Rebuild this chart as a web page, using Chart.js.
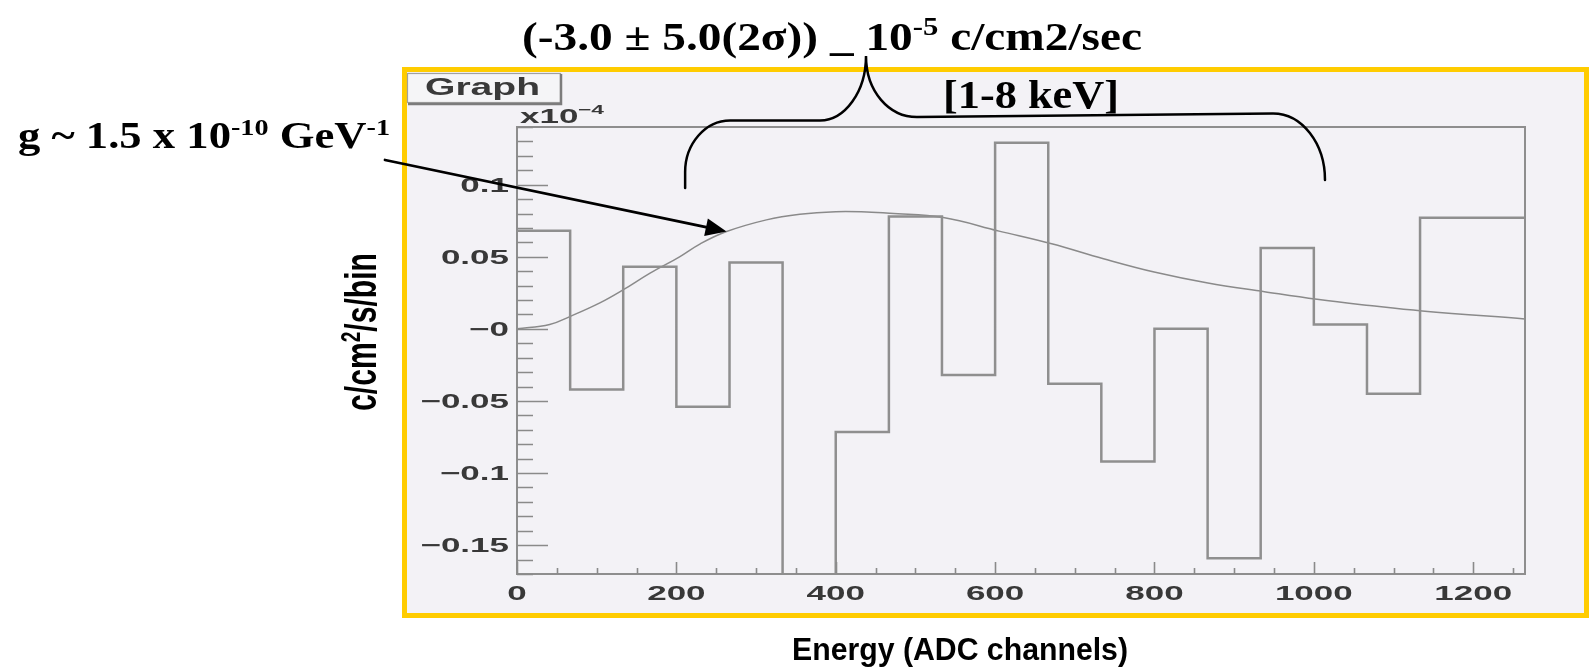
<!DOCTYPE html>
<html>
<head>
<meta charset="utf-8">
<script src="https://cdn.jsdelivr.net/npm/chart.js@4.4.1/dist/chart.umd.min.js"></script>
<style>
  html, body { margin: 0; padding: 0; background: #fff; }
  #wrap { width: 1590px; height: 670px; position: relative; }
</style>
</head>
<body>
<div id="wrap"><canvas id="chart-axion-limit"></canvas></div>
<script>
// low edge of each energy bin (ADC channels); the last entry closes the last bin
const binEdges = [0, 66.7, 133.3, 200, 266.7, 333.3, 400, 466.7, 533.3, 600,
  666.7, 733.3, 800, 866.7, 933.3, 1000, 1066.7, 1133.3, 1300];
// subtracted rate per bin, units of 1e-4 c/cm2/s/bin
const binRates = [0.068, -0.042, 0.043, -0.054, 0.046, -0.2, -0.0715, 0.078, -0.032,
  0.129, -0.038, -0.092, 0.0, -0.159, 0.056, 0.003, -0.045, 0.077];

// expected signal for g ~ 1.5e-10 GeV^-1
const signalX = [0, 41, 67, 104, 133, 167, 204, 230, 263, 313, 355, 400, 439, 468,
  535, 605, 671, 736, 801, 867, 938, 1004, 1070, 1136, 1265];
const signalY = [0, 0.003, 0.0087, 0.018, 0.027, 0.0387, 0.05, 0.059, 0.0675, 0.0756,
  0.0795, 0.0813, 0.0811, 0.0802, 0.0772, 0.0678, 0.059, 0.0486, 0.0392, 0.0318,
  0.0258, 0.0205, 0.0162, 0.0124, 0.0069];

// axis ticks
const xTicks = [0, 200, 400, 600, 800, 1000, 1200];
const yTicks = [0.1, 0.05, 0, -0.05, -0.1, -0.15];
const yTickLabels = ["0.1", "0.05", "\u22120", "\u22120.05", "\u22120.1", "\u22120.15"];

const histPoints = binEdges.map(function (x, i) {
  return { x: x, y: binRates[Math.min(i, binRates.length - 1)] };
});
const signalPoints = signalX.map(function (x, i) {
  return { x: x, y: signalY[i] };
});

const ROOT_FONT = '"Liberation Sans", Arial, sans-serif';
const SERIF = '"Liberation Serif", "Times New Roman", serif';
const STRETCH = 1.75; // ROOT canvas text is drawn wide

function wideText(ctx, text, x, y, sx, align) {
  const w = ctx.measureText(text).width * sx;
  let left = x;
  if (align === "center") left = x - w / 2;
  else if (align === "right") left = x - w;
  ctx.save();
  ctx.translate(left, y);
  ctx.scale(sx, 1);
  ctx.textAlign = "left";
  ctx.fillText(text, 0, 0);
  ctx.restore();
}

// text with superscripts, squeezed/stretched to a given width, drawn at the origin
function richText(ctx, parts, width, font, supFont, rise, sy) {
  let nat = 0;
  parts.forEach(function (p) {
    ctx.font = p.sup ? supFont : font;
    nat += ctx.measureText(p.t).width;
  });
  ctx.save();
  ctx.scale(width / nat, sy || 1);
  ctx.textAlign = "left";
  let cx = 0;
  parts.forEach(function (p) {
    ctx.font = p.sup ? supFont : font;
    ctx.fillText(p.t, cx, p.sup ? -rise : 0);
    cx += ctx.measureText(p.t).width;
  });
  ctx.restore();
}

const rootFrame = {
  id: "rootFrame",
  beforeDraw: function (chart) {
    const ctx = chart.ctx;
    ctx.save();
    ctx.fillStyle = "#ffffff";
    ctx.fillRect(0, 0, chart.width, chart.height);
    // pad + yellow border
    ctx.fillStyle = "#f3f2f6";
    ctx.fillRect(404, 69, 1183, 547);
    ctx.strokeStyle = "#ffcc00";
    ctx.lineWidth = 5;
    ctx.strokeRect(404.5, 69.5, 1182, 546);
    // "Graph" title box
    ctx.fillStyle = "#f5f5f7";
    ctx.fillRect(407, 73, 154, 30);
    ctx.strokeStyle = "#a0a0a0";
    ctx.lineWidth = 1.2;
    ctx.strokeRect(407.5, 73.5, 153, 29);
    ctx.strokeStyle = "#7c7c7c";
    ctx.lineWidth = 2.5;
    ctx.beginPath();
    ctx.moveTo(561, 74);
    ctx.lineTo(561, 104);
    ctx.lineTo(408, 104);
    ctx.stroke();
    ctx.fillStyle = "#3a3a3a";
    ctx.save();
    ctx.translate(425, 95);
    richText(ctx, [{ t: "Graph" }], 115, "bold 24px " + ROOT_FONT);
    ctx.restore();
    ctx.restore();
  },
  afterDatasetsDraw: function (chart) {
    const ctx = chart.ctx;
    const area = chart.chartArea;
    const xs = chart.scales.x;
    const ys = chart.scales.y;
    ctx.save();

    // frame
    ctx.strokeStyle = "#8e8e8e";
    ctx.lineWidth = 2;
    ctx.strokeRect(area.left, area.top, area.right - area.left, area.bottom - area.top);

    // y ticks, drawn inward
    ctx.strokeStyle = "#8a8a8a";
    ctx.lineWidth = 1.6;
    ctx.beginPath();
    for (let k = Math.ceil(ys.min * 100); k <= Math.floor(ys.max * 100); k++) {
      const py = Math.round(ys.getPixelForValue(k / 100)) + 0.5;
      const len = k % 5 === 0 ? 31 : 16;
      ctx.moveTo(area.left, py);
      ctx.lineTo(area.left + len, py);
    }
    // x ticks
    for (let v = 0; v <= xs.max; v += 50) {
      const px = Math.round(xs.getPixelForValue(v)) + 0.5;
      const len = v % 200 === 0 ? 12 : 6;
      ctx.moveTo(px, area.bottom);
      ctx.lineTo(px, area.bottom - len);
    }
    ctx.stroke();

    // tick labels
    ctx.fillStyle = "#383838";
    ctx.font = "bold 20px " + ROOT_FONT;
    xTicks.forEach(function (v) {
      wideText(ctx, String(v), xs.getPixelForValue(v), 600, STRETCH, "center");
    });
    yTicks.forEach(function (v, i) {
      wideText(ctx, yTickLabels[i], area.left - 8, ys.getPixelForValue(v) + 7, STRETCH, "right");
    });
    ctx.font = "bold 20px " + ROOT_FONT;
    wideText(ctx, "x10", 520, 123, STRETCH, "left");
    ctx.font = "bold 13px " + ROOT_FONT;
    wideText(ctx, "\u22124", 578, 114, STRETCH, "left");

    // axis titles
    ctx.fillStyle = "#000";
    ctx.save();
    ctx.translate(792, 660);
    richText(ctx, [{ t: "Energy (ADC channels)" }], 336, "bold 31px " + ROOT_FONT);
    ctx.restore();

    ctx.save();
    ctx.translate(376, 411);
    ctx.rotate(-Math.PI / 2);
    richText(ctx, [{ t: "c/cm" }, { t: "2", sup: true }, { t: "/s/bin" }], 158,
      "bold 30px " + ROOT_FONT, "bold 19px " + ROOT_FONT, 11, 1.5);
    ctx.restore();

    // result and energy window
    ctx.save();
    ctx.translate(522, 50);
    richText(ctx, [{ t: "(-3.0 \u00b1 5.0(2\u03c3)) _ 10" }, { t: "-5", sup: true }, { t: " c/cm2/sec" }],
      620, "bold 40px " + SERIF, "bold 26px " + SERIF, 15);
    ctx.restore();
    ctx.save();
    ctx.translate(943, 108);
    richText(ctx, [{ t: "[1-8 keV]" }], 176, "bold 40px " + SERIF);
    ctx.restore();

    // coupling label
    ctx.save();
    ctx.translate(18, 148);
    richText(ctx, [{ t: "g ~ 1.5 x 10" }, { t: "-10", sup: true }, { t: " GeV" }, { t: "-1", sup: true }],
      372, "bold 38px " + SERIF, "bold 24px " + SERIF, 13);
    ctx.restore();

    // brace over the 1-8 keV window
    const bl = xs.getPixelForValue(211);
    const br = xs.getPixelForValue(1014);
    ctx.strokeStyle = "#000";
    ctx.lineWidth = 2.5;
    ctx.lineCap = "round";
    ctx.beginPath();
    ctx.moveTo(bl, 188);
    ctx.lineTo(bl, 172);
    ctx.bezierCurveTo(bl, 144, bl + 20, 120.5, bl + 45, 120.5);
    ctx.lineTo(820, 120.5);
    ctx.bezierCurveTo(845, 120.5, 866, 91.5, 866, 56);
    ctx.bezierCurveTo(866, 91.5, 889, 117, 917, 117);
    ctx.lineTo(br - 52, 113.5);
    ctx.bezierCurveTo(br - 23, 113.5, br, 143.5, br, 180);
    ctx.stroke();

    // arrow from the coupling label to the signal curve
    const tx = xs.getPixelForValue(signalX[8]);
    const ty = ys.getPixelForValue(signalY[8]);
    const sx0 = 385, sy0 = 160;
    const ang = Math.atan2(ty - sy0, tx - sx0);
    const hl = 21, hw = 9;
    const bx = tx - hl * Math.cos(ang), by = ty - hl * Math.sin(ang);
    ctx.lineWidth = 2.8;
    ctx.beginPath();
    ctx.moveTo(sx0, sy0);
    ctx.lineTo(bx, by);
    ctx.stroke();
    ctx.fillStyle = "#000";
    ctx.beginPath();
    ctx.moveTo(tx, ty);
    ctx.lineTo(bx + hw * Math.sin(ang), by - hw * Math.cos(ang));
    ctx.lineTo(bx - hw * Math.sin(ang), by + hw * Math.cos(ang));
    ctx.closePath();
    ctx.fill();

    ctx.restore();
  },
};

const ctx = document.getElementById("chart-axion-limit").getContext("2d");
new Chart(ctx, {
  type: "line",
  data: {
    datasets: [
      {
        label: "rate",
        data: histPoints,
        stepped: "before",
        borderColor: "#8f8f8f",
        borderWidth: 2.5,
        pointRadius: 0,
        fill: false,
      },
      {
        label: "signal",
        data: signalPoints,
        tension: 0.4,
        borderColor: "#8a8a8a",
        borderWidth: 1.5,
        pointRadius: 0,
        fill: false,
      },
    ],
  },
  options: {
    responsive: true,
    maintainAspectRatio: false,
    animation: false,
    events: [],
    layout: { padding: { left: 517, top: 127, right: 65, bottom: 96 } },
    plugins: { legend: { display: false }, tooltip: { enabled: false } },
    scales: {
      x: { type: "linear", display: false, min: 0, max: 1265 },
      y: { type: "linear", display: false, min: -0.17, max: 0.14 },
    },
  },
  plugins: [rootFrame],
});
</script>
</body>
</html>
